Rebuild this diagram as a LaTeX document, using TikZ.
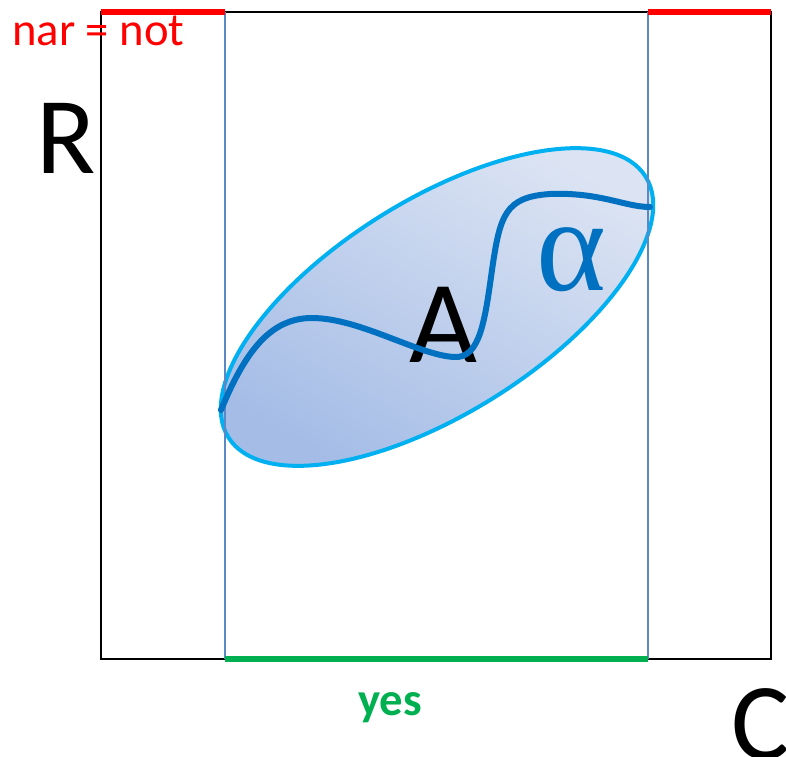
\documentclass[tikz,border=0pt]{standalone}
\usepackage{fontspec}
\setmainfont{Carlito}
\newfontfamily\greekserif{Liberation Serif}
\definecolor{frameblue}{RGB}{91,137,200}
\definecolor{ringcyan}{RGB}{0,176,240}
\definecolor{curveblue}{RGB}{0,112,192}
\definecolor{fillDark}{RGB}{164,188,230}
\definecolor{fillLight}{RGB}{220,228,243}
\definecolor{yesgreen}{RGB}{0,176,80}
\definecolor{notred}{RGB}{255,0,0}
\tikzset{
  big/.style={font=\fontsize{82}{96}\selectfont, inner sep=0pt},
  label35/.style={font=\fontsize{35}{42}\selectfont, inner sep=0pt},
}
\begin{document}
\begin{tikzpicture}[x=0.75pt,y=0.75pt]
\clip (0,0) rectangle (786,-757);
\useasboundingbox (0,0) rectangle (786,-757);
% coordinates
\coordinate (tl) at (101,-12);
\coordinate (tr) at (771,-12);
\coordinate (bl) at (101,-659);
\coordinate (br) at (771,-659);
\coordinate (t1) at (225,-12);
\coordinate (t2) at (648,-12);
\coordinate (b1) at (225,-659);
\coordinate (b2) at (648,-659);
% ellipse
\shade[top color=fillLight, bottom color=fillDark, shading angle=-30, rotate around={32:(437,-307)}]
  (437,-307) ellipse [x radius=246, y radius=107];
\draw[ringcyan, line width=3pt, rotate around={32:(437,-307)}]
  (437,-307) ellipse [x radius=246, y radius=107];
% frame
\draw[black, line width=1.5pt] (tl) rectangle (br);
\draw[frameblue, line width=1.1pt] (t1) -- (b1);
\draw[frameblue, line width=1.1pt] (t2) -- (b2);
\draw[notred, line width=5pt] (tl) -- (t1);
\draw[notred, line width=5pt] (t2) -- (tr);
\draw[yesgreen, line width=4pt] (b1) -- (b2);
% text
\node[font=\fontsize{88}{100}\selectfont, inner sep=0pt, anchor=base] (A) at (443,-362) {A};
\draw[curveblue, line width=4.5pt, line cap=round]
  (221,-410) .. controls (245,-352) and (270,-318) .. (312,-318)
  .. controls (360,-318) and (420,-356) .. (455,-357)
  .. controls (480,-358) and (485,-320) .. (492,-270)
  .. controls (500,-215) and (505,-197) .. (550,-194)
  .. controls (600,-192) and (625,-207) .. (650,-207);
\node[inner sep=0pt, anchor=base, text=curveblue, font=\greekserif\fontsize{100}{110}\selectfont] (alpha) at (571,-290) {α};
\node[big, anchor=base west] (R) at (36,-173) {R};
\node[big, anchor=base west] (C) at (731,-759) {C};
\node[label35, anchor=base west, text=notred] (nar) at (12,-45) {nar = not};
\node[label35, anchor=base, text=yesgreen, font=\fontsize{35}{42}\selectfont\bfseries] (yes) at (390,-715) {yes};
\end{tikzpicture}
\end{document}
